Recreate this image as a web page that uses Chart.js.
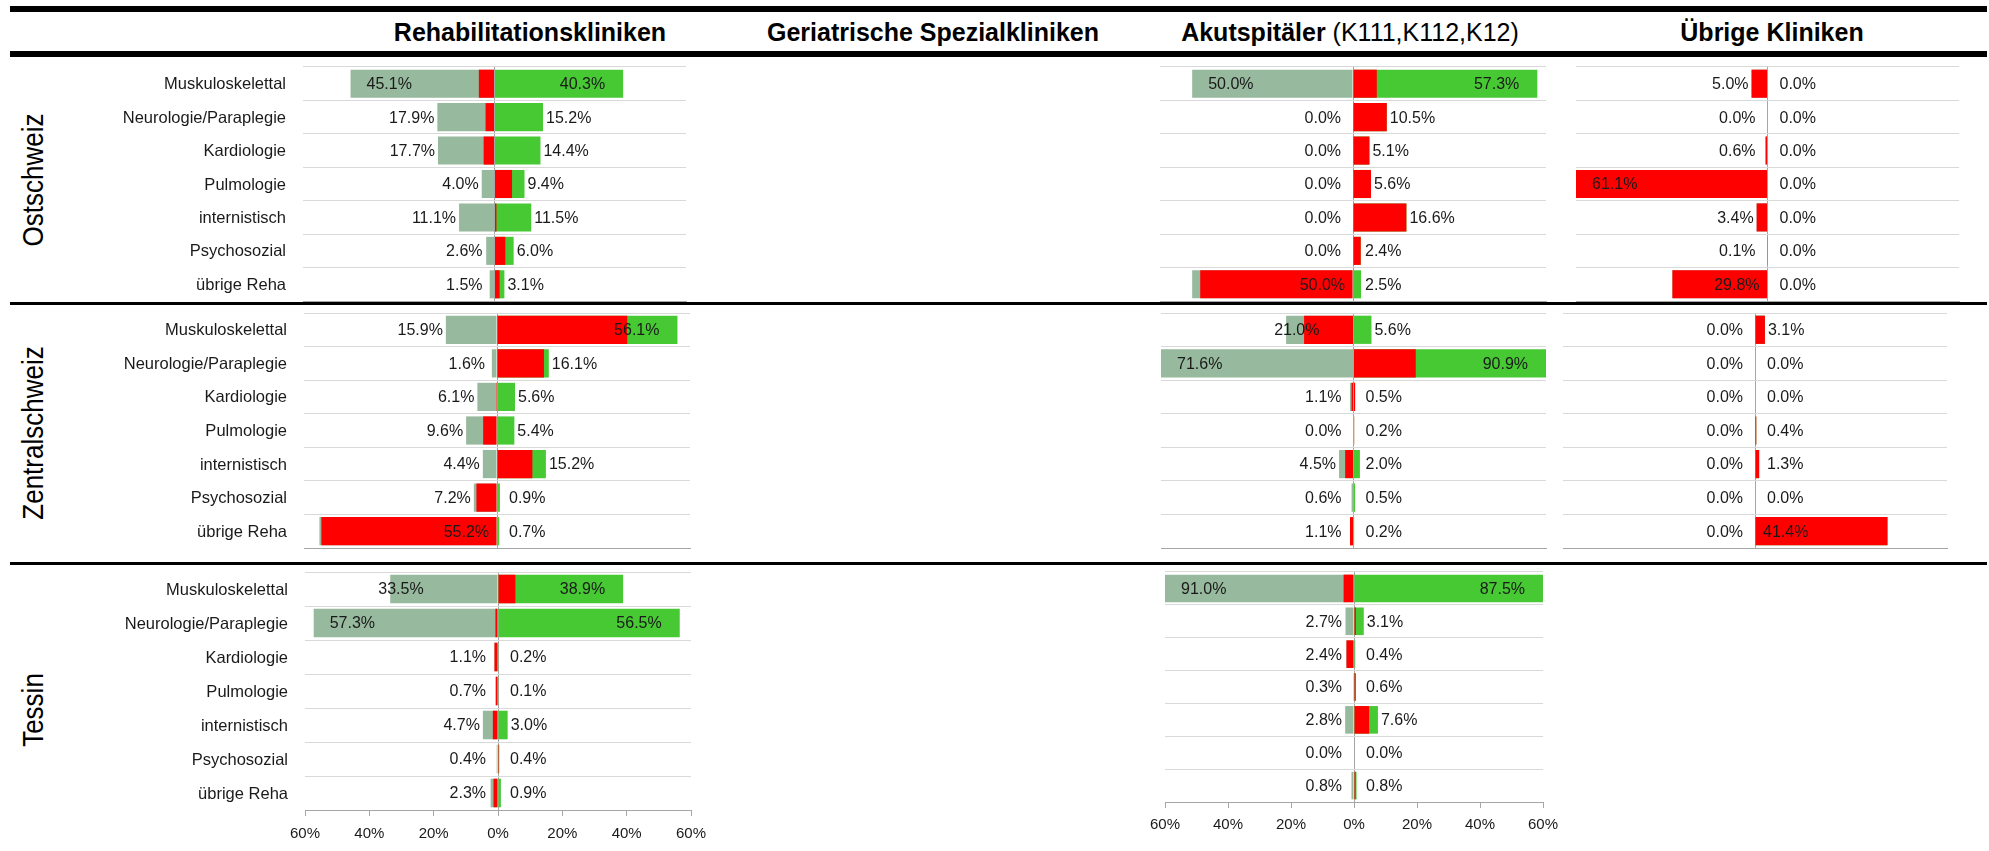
<!DOCTYPE html>
<html>
<head>
<meta charset="utf-8">
<script src="https://cdn.jsdelivr.net/npm/chart.js@4"></script>
<style>
  body { margin: 0; background: #fff; width: 1989px; height: 851px; overflow: hidden; position: relative;
         font-family: "Liberation Sans", Arial, sans-serif; color: #000; }
  .rule { position: absolute; left: 10px; width: 1977px; background: #000; }
  .hdr { position: absolute; top: 32px; transform: translate(-50%, -50%); font-size: 25px; font-weight: bold;
         white-space: nowrap; line-height: 1; }
  .region { position: absolute; left: 33px; font-size: 26px; white-space: nowrap; line-height: 1;
            transform: translate(-50%, -50%) rotate(-90deg) scaleY(1.1); }
  canvas { position: absolute; }
</style>
</head>
<body>
<div class="rule" style="top:6px;height:6px"></div>
<div class="rule" style="top:51px;height:6px"></div>
<div class="rule" style="top:302px;height:3px"></div>
<div class="rule" style="top:562px;height:3px"></div>

<div class="hdr" style="left:530px">Rehabilitationskliniken</div>
<div class="hdr" style="left:933px">Geriatrische Spezialkliniken</div>
<div class="hdr" style="left:1350px">Akutspitäler <span style="font-weight:normal">(K111,K112,K12)</span></div>
<div class="hdr" style="left:1772px">Übrige Kliniken</div>

<div class="region" style="top:180px">Ostschweiz</div>
<div class="region" style="top:433px">Zentralschweiz</div>
<div class="region" style="top:710px">Tessin</div>

<script>
const categories = ['Muskuloskelettal', 'Neurologie/Paraplegie', 'Kardiologie', 'Pulmologie', 'internistisch', 'Psychosozial', 'übrige Reha'];
const tickValues = [-60, -40, -20, 0, 20, 40, 60];

// Rehabilitationskliniken
const rehabOstLeft = [45.1, 17.9, 17.7, 4.0, 11.1, 2.6, 1.5];
const rehabOstLeftRed = [4.9, 2.8, 3.4, 0, 0, 0, 0];
const rehabOstRight = [40.3, 15.2, 14.4, 9.4, 11.5, 6.0, 3.1];
const rehabOstRightRed = [0, 0, 0, 5.5, 0.6, 3.4, 1.6];

const rehabZenLeft = [15.9, 1.6, 6.1, 9.6, 4.4, 7.2, 55.2];
const rehabZenLeftRed = [0, 0, 0.3, 4.3, 0, 6.4, 54.6];
const rehabZenRight = [56.1, 16.1, 5.6, 5.4, 15.2, 0.9, 0.7];
const rehabZenRightRed = [40.5, 14.6, 0, 0, 11.0, 0, 0];

const rehabTesLeft = [33.5, 57.3, 1.1, 0.7, 4.7, 0.4, 2.3];
const rehabTesLeftRed = [0, 0.8, 1.1, 0.7, 1.6, 0, 1.4];
const rehabTesRight = [38.9, 56.5, 0.2, 0.1, 3.0, 0.4, 0.9];
const rehabTesRightRed = [5.4, 0, 0, 0, 0, 0.3, 0];

// Akutspitäler
const akutOstLeft = [50.0, 0.0, 0.0, 0.0, 0.0, 0.0, 50.0];
const akutOstLeftRed = [0, 0, 0, 0, 0, 0, 47.5];
const akutOstRight = [57.3, 10.5, 5.1, 5.6, 16.6, 2.4, 2.5];
const akutOstRightRed = [7.4, 10.5, 5.1, 5.6, 16.6, 2.4, 0];

const akutZenLeft = [21.0, 71.6, 1.1, 0.0, 4.5, 0.6, 1.1];
const akutZenLeftRed = [15.4, 0, 0.6, 0, 2.6, 0, 1.1];
const akutZenRight = [5.6, 90.9, 0.5, 0.2, 2.0, 0.5, 0.2];
const akutZenRightRed = [0, 19.4, 0.5, 0.2, 0, 0, 0];

const akutTesLeft = [91.0, 2.7, 2.4, 0.3, 2.8, 0.0, 0.8];
const akutTesLeftRed = [3.3, 0, 2.4, 0, 0, 0, 0];
const akutTesRight = [87.5, 3.1, 0.4, 0.6, 7.6, 0.0, 0.8];
const akutTesRightRed = [0, 0.6, 0, 0.5, 4.8, 0, 0.5];

// Übrige Kliniken
const uebOstLeft = [5.0, 0.0, 0.6, 61.1, 3.4, 0.1, 29.8];
const uebOstLeftRed = [5.0, 0, 0.6, 61.1, 3.4, 0.1, 29.8];
const uebOstRight = [0.0, 0.0, 0.0, 0.0, 0.0, 0.0, 0.0];
const uebOstRightRed = [0, 0, 0, 0, 0, 0, 0];

const uebZenLeft = [0.0, 0.0, 0.0, 0.0, 0.0, 0.0, 0.0];
const uebZenLeftRed = [0, 0, 0, 0, 0, 0, 0];
const uebZenRight = [3.1, 0.0, 0.0, 0.4, 1.3, 0.0, 41.4];
const uebZenRightRed = [3.1, 0, 0, 0.4, 1.3, 0, 41.4];

const RED = '#ff0000', GREY = '#97b99e', GREEN = '#47c934';
const GRID = '#d9d9d9', AXIS = '#a6a6a6', TEXT = '#1a1a1a';
const FONT = '"Liberation Sans", Arial, sans-serif';
Chart.defaults.font.family = FONT;

function pct(v) { return v.toFixed(1) + '%'; }

// value labels, category names and tick labels
function labelPlugin(p) {
  return {
    id: 'barLabels',
    afterDatasetsDraw(chart) {
      const ctx = chart.ctx, xs = chart.scales.x, ys = chart.scales.y, area = chart.chartArea;
      const zero = xs.getPixelForValue(0), max = xs.max;
      ctx.save();
      ctx.fillStyle = TEXT;
      ctx.textBaseline = 'middle';
      ctx.font = '16px ' + FONT;
      categories.forEach((c, i) => {
        const y = ys.getPixelForValue(i) + 1;
        // left side
        let v = p.left[i], r = p.leftRed[i];
        let clipped = v > max;
        let end = xs.getPixelForValue(-Math.min(v, max));
        let L = zero - end;
        if (!clipped && L > 60 && r / v > 0.8) { ctx.textAlign = 'right'; ctx.fillText(pct(v), zero - 8, y); }
        else if (clipped || L > 120) { ctx.textAlign = 'left'; ctx.fillText(pct(v), end + 16, y); }
        else if (L > 60) { ctx.textAlign = 'left'; ctx.fillText(pct(v), end - 12, y); }
        else { ctx.textAlign = 'right'; ctx.fillText(pct(v), Math.min(end - 3, zero - 12), y); }
        // right side
        v = p.right[i]; r = p.rightRed[i];
        clipped = v > max;
        end = xs.getPixelForValue(Math.min(v, max));
        L = end - zero;
        if (!clipped && L > 60 && L < 165 && r / v > 0.8) { ctx.textAlign = 'left'; ctx.fillText(pct(v), zero + 8, y); }
        else if (clipped || L > 90) { ctx.textAlign = 'right'; ctx.fillText(pct(v), end - 18, y); }
        else { ctx.textAlign = 'left'; ctx.fillText(pct(v), Math.max(end + 3, zero + 12), y); }
      });
      if (p.cats) {
        ctx.font = '16.5px ' + FONT;
        ctx.textAlign = 'right';
        categories.forEach((c, i) => ctx.fillText(c, area.left - 17, ys.getPixelForValue(i) + 1));
      }
      if (p.tickGap) {
        ctx.font = '15px ' + FONT;
        ctx.textAlign = 'center';
        xs.ticks.forEach(t => ctx.fillText(Math.abs(t.value) + '%', xs.getPixelForValue(t.value), area.bottom + p.tickGap));
      }
      ctx.restore();
    }
  };
}

function makeChart(p) {
  const withTicks = !!p.tickGap;
  const padL = p.cats ? p.x0 - 110 : 30, padR = 30, padT = 3, padB = withTicks ? 40 : 3;
  const tickLen = withTicks ? 6 : 0;
  const w = p.x1 - p.x0 + padL + padR, h = p.y1 - p.y0 + padT + padB;
  const cv = document.createElement('canvas');
  cv.width = w; cv.height = h;
  cv.style.left = (p.x0 - padL) + 'px';
  cv.style.top = (p.y0 - padT) + 'px';
  cv.style.width = w + 'px';
  cv.style.height = h + 'px';
  document.body.appendChild(cv);

  new Chart(cv, {
    type: 'bar',
    data: {
      labels: categories,
      datasets: [
        { data: p.leftRed.map(v => -v), backgroundColor: RED },
        { data: p.rightRed, backgroundColor: RED },
        { data: p.left.map(v => -v), backgroundColor: GREY },
        { data: p.right, backgroundColor: GREEN }
      ]
    },
    options: {
      indexAxis: 'y',
      responsive: false,
      animation: false,
      devicePixelRatio: 1,
      events: [],
      layout: { padding: { left: padL, right: padR, top: padT, bottom: padB - tickLen } },
      datasets: { bar: { grouped: false, barPercentage: 0.84, categoryPercentage: 1, borderWidth: 0 } },
      scales: {
        x: {
          min: -60, max: 60, z: 1,
          afterBuildTicks: s => { s.ticks = tickValues.map(v => ({ value: v })); },
          ticks: { display: false },
          grid: {
            color: c => (c.tick && c.tick.value === 0) ? AXIS : 'rgba(0,0,0,0)',
            drawTicks: withTicks, tickLength: 6, tickColor: AXIS
          },
          border: { display: true, color: AXIS }
        },
        y: {
          ticks: { display: false },
          grid: { color: GRID, drawTicks: false, offset: true },
          border: { display: false }
        }
      },
      plugins: { legend: { display: false }, tooltip: { enabled: false } }
    },
    plugins: [labelPlugin(p)]
  });
}

makeChart({ left: rehabOstLeft, leftRed: rehabOstLeftRed, right: rehabOstRight, rightRed: rehabOstRightRed,
            x0: 303, x1: 686, y0: 67, y1: 301, cats: true });
makeChart({ left: rehabZenLeft, leftRed: rehabZenLeftRed, right: rehabZenRight, rightRed: rehabZenRightRed,
            x0: 304, x1: 690, y0: 313, y1: 548, cats: true });
makeChart({ left: rehabTesLeft, leftRed: rehabTesLeftRed, right: rehabTesRight, rightRed: rehabTesRightRed,
            x0: 305, x1: 691, y0: 572, y1: 810, cats: true, tickGap: 24 });

makeChart({ left: akutOstLeft, leftRed: akutOstLeftRed, right: akutOstRight, rightRed: akutOstRightRed,
            x0: 1160, x1: 1546, y0: 67, y1: 301 });
makeChart({ left: akutZenLeft, leftRed: akutZenLeftRed, right: akutZenRight, rightRed: akutZenRightRed,
            x0: 1161, x1: 1546, y0: 313, y1: 548 });
makeChart({ left: akutTesLeft, leftRed: akutTesLeftRed, right: akutTesRight, rightRed: akutTesRightRed,
            x0: 1165, x1: 1543, y0: 572, y1: 802, tickGap: 23 });

makeChart({ left: uebOstLeft, leftRed: uebOstLeftRed, right: uebOstRight, rightRed: uebOstRightRed,
            x0: 1576, x1: 1959, y0: 67, y1: 301 });
makeChart({ left: uebZenLeft, leftRed: uebZenLeftRed, right: uebZenRight, rightRed: uebZenRightRed,
            x0: 1563, x1: 1947, y0: 313, y1: 548 });
</script>
</body>
</html>
